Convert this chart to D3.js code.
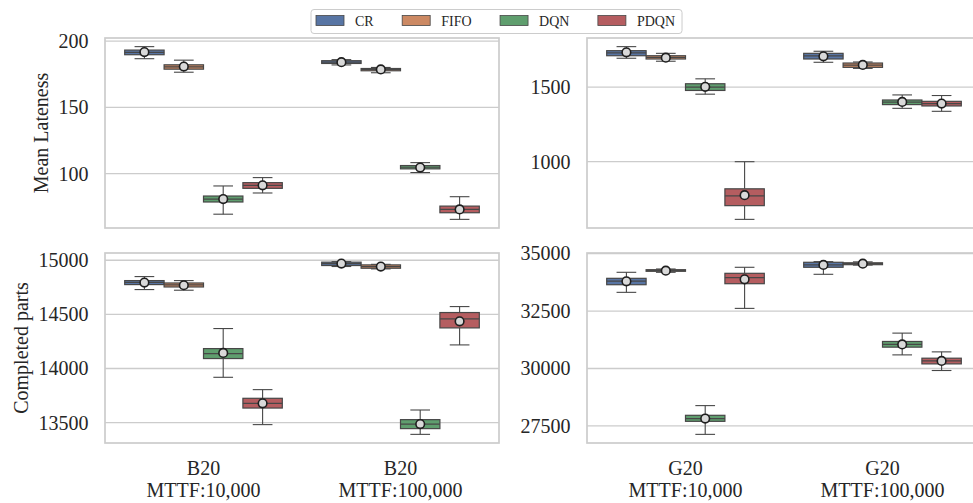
<!DOCTYPE html>
<html>
<head>
<meta charset="utf-8">
<script src="https://cdn.jsdelivr.net/npm/d3@7"></script>
<style>
  body { margin: 0; background: #fff; }
  svg { display: block; font-family: "Liberation Serif", "Times New Roman", serif; }
</style>
</head>
<body>
<svg></svg>
<script>
var width = 973;
var height = 503;

var methods = ["CR", "FIFO", "DQN", "PDQN"];
var colors = ["#5875a4", "#cc8963", "#5f9e6e", "#b55d60"];

var scenariosB = [["B20", "MTTF:10,000"], ["B20", "MTTF:100,000"]];
var scenariosG = [["G20", "MTTF:10,000"], ["G20", "MTTF:100,000"]];

// each row: [whiskerLow, q1, median, q3, whiskerHigh, mean], rows per scenario then method
var latenessB20 = [
  [[186.7, 189.7, 191.5, 193.2, 195.8, 191.7],
   [176.5, 178.8, 180.5, 182.1, 185.6, 180.8],
   [69.4, 78.6, 80.8, 83.1, 90.7, 80.8],
   [85.4, 88.9, 91.2, 93.2, 97.0, 91.2]],
  [[182.0, 183.1, 184.1, 185.2, 186.0, 184.1],
   [176.1, 177.6, 178.6, 179.3, 180.1, 178.6],
   [100.8, 103.6, 104.8, 106.1, 108.3, 104.6],
   [65.5, 70.5, 73.0, 75.5, 82.6, 73.0]]
];
var latenessG20 = [
  [[1694, 1711, 1730, 1745, 1772, 1734],
   [1674, 1689, 1700, 1711, 1727, 1698],
   [1453, 1478, 1500, 1523, 1556, 1502],
   [613, 705, 770, 818, 1000, 775]],
  [[1667, 1689, 1710, 1727, 1741, 1707],
   [1626, 1633, 1648, 1662, 1669, 1649],
   [1358, 1383, 1400, 1414, 1448, 1401],
   [1338, 1374, 1390, 1405, 1444, 1390]]
];
var partsB20 = [
  [[14729, 14775, 14795, 14812, 14849, 14794],
   [14723, 14753, 14772, 14790, 14812, 14769],
   [13919, 14092, 14138, 14184, 14369, 14144],
   [13482, 13635, 13679, 13725, 13805, 13679]],
  [[14942, 14951, 14968, 14982, 14987, 14969],
   [14920, 14926, 14941, 14957, 14962, 14941],
   [13392, 13445, 13487, 13528, 13617, 13487],
   [14218, 14375, 14458, 14517, 14572, 14436]]
];
var partsG20 = [
  [[33314, 33646, 33800, 33924, 34186, 33794],
   [34186, 34230, 34260, 34300, 34330, 34256],
   [27135, 27702, 27820, 27964, 28386, 27820],
   [32616, 33690, 33952, 34142, 34404, 33880]],
  [[34099, 34404, 34510, 34622, 34650, 34505],
   [34500, 34518, 34561, 34600, 34640, 34561],
   [30593, 30929, 31050, 31177, 31540, 31047],
   [29913, 30201, 30331, 30449, 30724, 30331]]
];

var ticksLatenessB = [100, 150, 200];
var ticksLatenessG = [1000, 1500];
var ticksPartsB = [13500, 14000, 14500, 15000];
var ticksPartsG = [27500, 30000, 32500, 35000];

var panels = [
  { data: latenessB20, scen: scenariosB, ticks: ticksLatenessB, col: 0, row: 0, label: "Mean Lateness" },
  { data: latenessG20, scen: scenariosG, ticks: ticksLatenessG, col: 1, row: 0, label: null },
  { data: partsB20, scen: scenariosB, ticks: ticksPartsB, col: 0, row: 1, label: "Completed parts" },
  { data: partsG20, scen: scenariosG, ticks: ticksPartsG, col: 1, row: 1, label: null }
];

var panelLeft = [105, 587];
var panelTop = [38, 253];
var panelW = 394;
var panelH = 190;
var textColor = "#262626";
var lineColor = "#474747";

var svg = d3.select("svg")
    .attr("width", width)
    .attr("height", height);

panels.forEach(drawPanel);
drawLegend();

function drawPanel(p) {
  var x0 = panelLeft[p.col];
  var y0 = panelTop[p.row];

  var lo = d3.min(p.data.flat(), d => d[0]);
  var hi = d3.max(p.data.flat(), d => d[4]);
  var pad = (hi - lo) * 0.05;

  var y = d3.scaleLinear()
      .domain([lo - pad, hi + pad])
      .range([y0 + panelH, y0]);

  var x = d3.scaleBand()
      .domain(d3.range(p.scen.length))
      .range([x0, x0 + panelW]);

  var hue = d3.scaleBand()
      .domain(methods)
      .range([-0.4 * x.bandwidth(), 0.4 * x.bandwidth()]);

  var g = svg.append("g");

  // grid
  g.selectAll(".grid")
    .data(p.ticks)
    .enter()
    .append("line")
      .attr("x1", x0)
      .attr("x2", x0 + panelW)
      .attr("y1", d => y(d))
      .attr("y2", d => y(d))
      .attr("stroke", "#cccccc")
      .attr("stroke-width", 1.3);

  // frame
  g.append("rect")
    .attr("x", x0)
    .attr("y", y0)
    .attr("width", panelW)
    .attr("height", panelH)
    .attr("fill", "none")
    .attr("stroke", "#cccccc")
    .attr("stroke-width", 1.7);

  var axis = g.append("g")
    .attr("transform", `translate(${x0},0)`)
    .call(d3.axisLeft(y).tickValues(p.ticks).tickSize(0).tickPadding(16.5).tickFormat(d3.format("d")));
  axis.select(".domain").remove();
  axis.selectAll("text")
    .attr("fill", textColor)
    .style("font-size", "20px")
    .style("font-family", "'Liberation Serif', serif");

  if (p.label) {
    var bb = axis.node().getBBox();
    svg.append("text")
      .attr("transform", `translate(${x0 + bb.x - 11}, ${y0 + panelH / 2}) rotate(-90)`)
      .attr("text-anchor", "middle")
      .attr("fill", textColor)
      .style("font-size", "20px")
      .text(p.label);
  }

  // boxes
  p.data.forEach(function(group, si) {
    var cx0 = x(si) + x.bandwidth() / 2;
    group.forEach(function(s, mi) {
      var m = methods[mi];
      var left = cx0 + hue(m);
      var w = hue.bandwidth();
      var cx = left + w / 2;
      var bg = g.append("g");

      bg.append("line")
        .attr("x1", cx).attr("x2", cx)
        .attr("y1", y(s[3])).attr("y2", y(s[4]))
        .attr("stroke", lineColor).attr("stroke-width", 1.1);
      bg.append("line")
        .attr("x1", cx).attr("x2", cx)
        .attr("y1", y(s[1])).attr("y2", y(s[0]))
        .attr("stroke", lineColor).attr("stroke-width", 1.1);
      [s[0], s[4]].forEach(function(v) {
        bg.append("line")
          .attr("x1", cx - w / 4).attr("x2", cx + w / 4)
          .attr("y1", y(v)).attr("y2", y(v))
          .attr("stroke", lineColor).attr("stroke-width", 1.1);
      });

      bg.append("rect")
        .attr("x", left)
        .attr("y", y(s[3]))
        .attr("width", w)
        .attr("height", Math.max(y(s[1]) - y(s[3]), 1))
        .attr("fill", colors[mi])
        .attr("stroke", lineColor)
        .attr("stroke-width", 1.2);

      bg.append("line")
        .attr("x1", left).attr("x2", left + w)
        .attr("y1", y(s[2])).attr("y2", y(s[2]))
        .attr("stroke", lineColor).attr("stroke-width", 1.2);

      bg.append("circle")
        .attr("cx", cx)
        .attr("cy", y(s[5]))
        .attr("r", 4.3)
        .attr("fill", "#d9d9d9")
        .attr("stroke", "#1f1f1f")
        .attr("stroke-width", 1.6);
    });
  });

  // x labels, bottom row only
  if (p.row === 1) {
    p.scen.forEach(function(lines, si) {
      var t = svg.append("text")
        .attr("text-anchor", "middle")
        .attr("fill", textColor)
        .style("font-size", "20px");
      lines.forEach(function(line, li) {
        t.append("tspan")
          .attr("x", x(si) + x.bandwidth() / 2)
          .attr("y", 475 + li * 21.7)
          .text(line);
      });
    });
  }
}

function drawLegend() {
  var lg = svg.append("g");
  var frame = lg.append("rect")
    .attr("x", 311)
    .attr("y", 9.5)
    .attr("height", 24)
    .attr("rx", 3)
    .attr("fill", "#fff")
    .attr("stroke", "#cccccc")
    .attr("stroke-width", 1);

  var xPos = 316;
  methods.forEach(function(m, i) {
    lg.append("rect")
      .attr("x", xPos)
      .attr("y", 15.5)
      .attr("width", 28)
      .attr("height", 10)
      .attr("fill", colors[i])
      .attr("stroke", "#474747")
      .attr("stroke-width", 0.8);
    var t = lg.append("text")
      .attr("x", xPos + 39)
      .attr("y", 25.5)
      .attr("fill", textColor)
      .style("font-size", "14px")
      .text(m);
    var tw = t.node().getComputedTextLength();
    xPos = xPos + 39 + tw + (i < methods.length - 1 ? 28.5 : 0);
  });
  frame.attr("width", xPos + 7 - 311);
}
</script>
</body>
</html>
